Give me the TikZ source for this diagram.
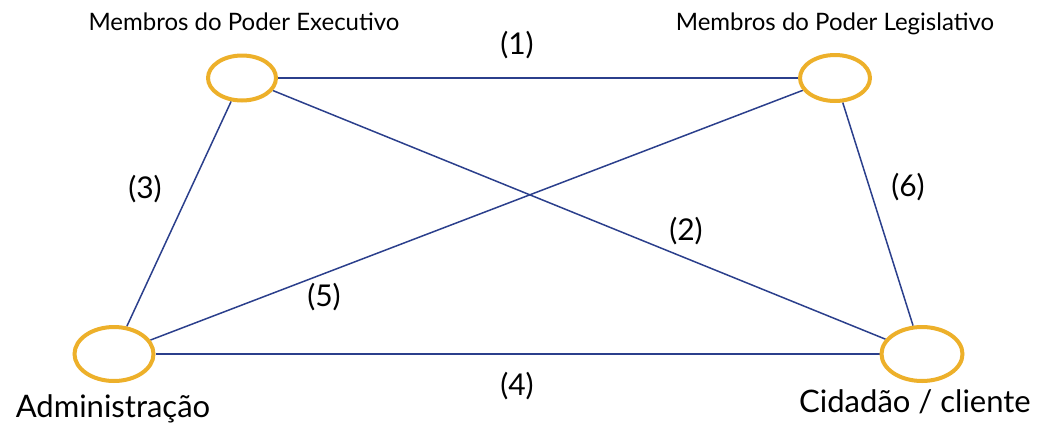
\documentclass[tikz,border=0pt]{standalone}
\usepackage{fontspec}
\setmainfont{Lato}
\usepackage{xcolor}
\usetikzlibrary{shapes.geometric, positioning, backgrounds}

\definecolor{actorgold}{HTML}{EDB02A}
\definecolor{linkblue}{HTML}{2B3F8C}

\tikzset{
  actornode/.style={
    ellipse, draw=actorgold, line width=4pt, fill=white,
    inner sep=0pt
  },
  actorsmall/.style={
    actornode, minimum width=68pt, minimum height=45pt
  },
  actorbig/.style={
    actornode, minimum width=79pt, minimum height=54pt
  },
  linkline/.style={
    draw=linkblue, line width=1.5pt
  },
  toplabel/.style={
    anchor=base, inner sep=0pt, font=\fontsize{24}{28}\selectfont
  },
  bottomlabel/.style={
    anchor=base, inner sep=0pt, font=\fontsize{31}{36}\selectfont
  },
  numlabel/.style={
    anchor=base, inner sep=0pt, font=\fontsize{30}{35}\selectfont
  },
}

\begin{document}
\begin{tikzpicture}[x=1pt, y=-1pt]
  \useasboundingbox (0,0) rectangle (1049,426);

  % ---- ACTORS ----
  \node[actorsmall] (exec) at (242, 78) {};
  \node[actorsmall, minimum width=70pt, minimum height=46pt] (legis) at (835, 78) {};
  \node[actorbig] (admin) at (114, 354) {};
  \node[actorbig, minimum width=81pt] (cidadao) at (922, 354) {};

  % ---- LINKS ----
  \begin{scope}[on background layer]
    \draw[linkline] (exec) -- (legis);
    \draw[linkline] (exec) -- (cidadao);
    \draw[linkline] (exec) -- (admin);
    \draw[linkline] (admin) -- (cidadao);
    \draw[linkline] (admin) -- (legis);
    \draw[linkline] (legis) -- (cidadao);
  \end{scope}

  % ---- ACTOR LABELS ----
  \node[toplabel] (execlabel) at (244, 30) {Membros do Poder Executivo};
  \node[toplabel] (legislabel) at (835, 30) {Membros do Poder Legislativo};
  \node[bottomlabel] (adminlabel) at (113, 417) {Administração};
  \node[bottomlabel] (cidadaolabel) at (915, 412) {Cidadão / cliente};

  % ---- LINK NUMBERS ----
  \node[numlabel] (n1) at (517, 54) {(1)};
  \node[numlabel] (n2) at (686, 240) {(2)};
  \node[numlabel] (n3) at (145, 198) {(3)};
  \node[numlabel] (n4) at (517, 395) {(4)};
  \node[numlabel] (n5) at (324, 306) {(5)};
  \node[numlabel] (n6) at (908, 196) {(6)};
\end{tikzpicture}
\end{document}
